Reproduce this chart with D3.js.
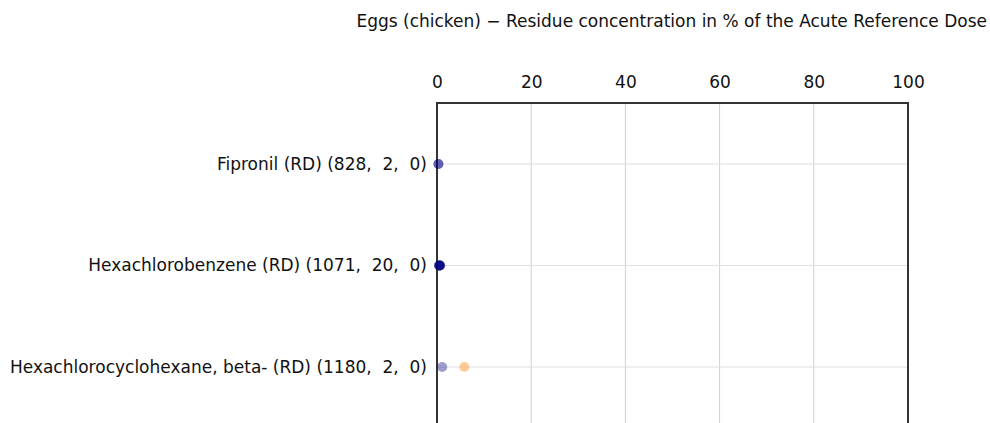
<!DOCTYPE html>
<html><head><meta charset="utf-8">
<script src="https://cdn.jsdelivr.net/npm/d3@7"></script>
<style>
html,body{margin:0;padding:0;background:#fff;}
text{font-family:"DejaVu Sans",sans-serif;fill:#111;white-space:pre;}
</style></head><body>
<svg id="c" width="990" height="423"></svg>
<script>
const title = "Eggs (chicken) \u2212 Residue concentration in % of the Acute Reference Dose";
const categories = ["Fipronil (RD) (828,  2,  0)", "Hexachlorobenzene (RD) (1071,  20,  0)", "Hexachlorocyclohexane, beta- (RD) (1180,  2,  0)"];
const tickValues = [0, 20, 40, 60, 80, 100];
// sample points (navy, translucent) per category
const samplePoints = [
  {cat: 0, v: 0.3}, {cat: 0, v: 0.3},
  {cat: 1, v: 0.4}, {cat: 1, v: 0.5}, {cat: 1, v: 0.6}, {cat: 1, v: 0.7}, {cat: 1, v: 0.5}, {cat: 1, v: 0.6},
  {cat: 2, v: 1.1}
];
// highlighted points (orange)
const highPoints = [{cat: 2, v: 5.8}];

const FS = 17;
const svg = d3.select("#c");
const L = 437, R = 908, T = 103, B = 470;
const x = d3.scaleLinear().domain([0, 100]).range([L, R]);
const y = d3.scalePoint().domain(d3.range(categories.length)).range([164, 367]);

svg.append("text").attr("x", 987).attr("y", 27).attr("text-anchor", "end")
  .attr("font-size", FS).text(title);

// vertical grid
svg.append("g").selectAll("line").data(tickValues.slice(1, -1)).join("line")
  .attr("x1", d => x(d)).attr("x2", d => x(d)).attr("y1", T).attr("y2", B)
  .attr("stroke", "#d0d0d0").attr("stroke-width", 1);
// horizontal grid
svg.append("g").selectAll("line").data(d3.range(categories.length)).join("line")
  .attr("x1", L).attr("x2", R).attr("y1", d => y(d)).attr("y2", d => y(d))
  .attr("stroke", "#e0e0e0").attr("stroke-width", 1);

// axis
const ax = d3.axisTop(x).tickValues(tickValues).tickSize(0).tickPadding(0);
const g = svg.append("g").attr("transform", `translate(0,${T})`).call(ax);
g.select(".domain").remove();
g.selectAll("text").attr("font-size", FS).attr("y", -15).attr("dy", 0)
  .style("font-family", '"DejaVu Sans",sans-serif').attr("fill", "#111");

// frame
svg.append("path").attr("d", `M${L},${B}V${T}H${R}V${B}`).attr("fill", "none")
  .attr("stroke", "#333").attr("stroke-width", 2);

// labels
svg.append("g").selectAll("text").data(categories).join("text")
  .attr("x", 427).attr("y", (d, i) => y(i)).attr("dy", "0.35em")
  .attr("text-anchor", "end").attr("font-size", FS).text(d => d);

svg.append("g").selectAll("circle").data(samplePoints).join("circle")
  .attr("cx", d => x(d.v)).attr("cy", d => y(d.cat)).attr("r", 5)
  .attr("fill", "#00007f").attr("fill-opacity", 0.38);
svg.append("g").selectAll("circle").data(highPoints).join("circle")
  .attr("cx", d => x(d.v)).attr("cy", d => y(d.cat)).attr("r", 5)
  .attr("fill", "#ff9a33").attr("fill-opacity", 0.5);
</script></body></html>
